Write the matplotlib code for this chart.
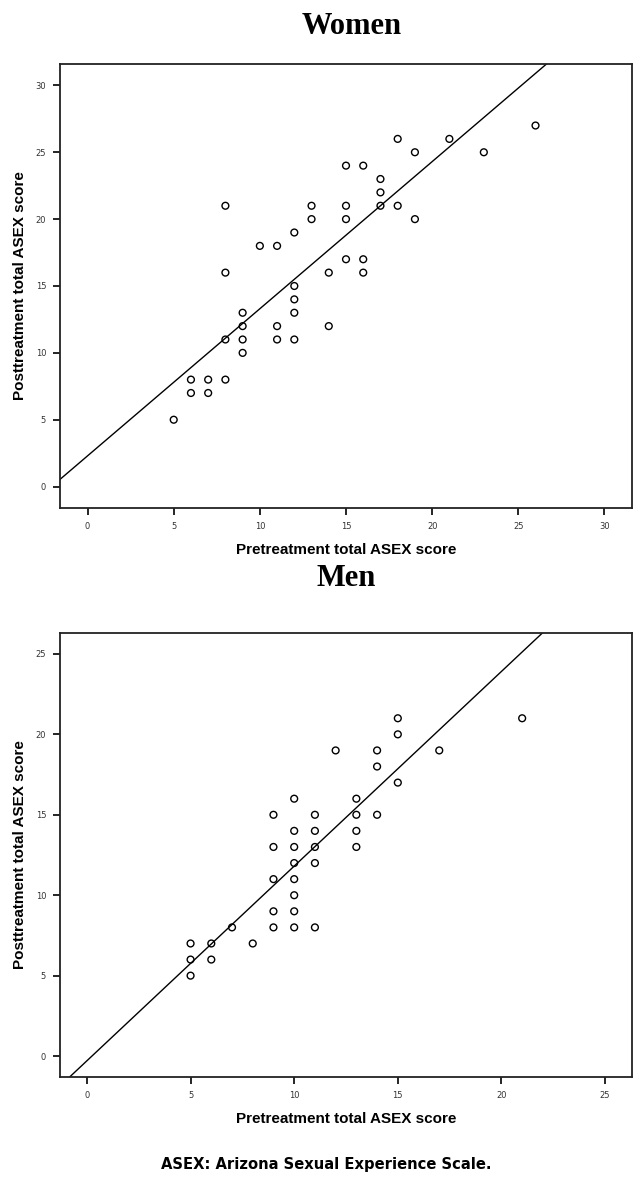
import matplotlib
matplotlib.use("Agg")
import matplotlib.pyplot as plt
import numpy as np

# Women: pretreatment vs posttreatment total ASEX score
women_pre = [5, 6, 6, 7, 7, 8, 8, 8, 8, 9, 9, 9, 9, 10, 11, 11, 11, 12, 12, 12, 12, 12,
             13, 13, 14, 14, 15, 15, 15, 15, 16, 16, 16, 17, 17, 17, 18, 18, 19, 19, 21, 23, 26]
women_post = [5, 8, 7, 8, 7, 8, 11, 16, 21, 13, 12, 11, 10, 18, 18, 12, 11, 19, 15, 14, 13, 11,
              21, 20, 16, 12, 24, 21, 20, 17, 24, 17, 16, 23, 22, 21, 26, 21, 25, 20, 26, 25, 27]
women_fit = (2.30, 1.10)  # intercept, slope

# Men
men_pre = [5, 5, 5, 6, 6, 7, 8, 9, 9, 9, 9, 9, 10, 10, 10, 10, 10, 10, 10, 10,
           11, 11, 11, 11, 11, 12, 13, 13, 13, 13, 14, 14, 14, 15, 15, 15, 17, 21]
men_post = [7, 6, 5, 7, 6, 8, 7, 15, 13, 11, 9, 8, 16, 14, 13, 12, 11, 10, 9, 8,
            15, 14, 13, 12, 8, 19, 16, 15, 14, 13, 19, 18, 15, 21, 20, 17, 19, 21]
men_fit = (-0.29, 1.21)

women_ticks = [0, 5, 10, 15, 20, 25, 30]
men_ticks = [0, 5, 10, 15, 20, 25]

fig = plt.figure(figsize=(6.34, 11.81), dpi=100)

ax_w = fig.add_axes([60 / 634, 1 - 508 / 1181, 572 / 634, 444 / 1181])
ax_m = fig.add_axes([60 / 634, 1 - 1077 / 1181, 572 / 634, 444 / 1181])


def draw_panel(ax, x, y, fit, ticks, lims):
    ax.scatter(x, y, s=24, facecolors="none", edgecolors="black", linewidths=1.0, zorder=3)
    a, b = fit
    xx = np.array([lims[0] - 2, lims[1] + 2])
    ax.plot(xx, a + b * xx, color="black", lw=1.0, zorder=2)
    ax.set_xlim(lims)
    ax.set_ylim(lims)
    ax.set_xticks(ticks)
    ax.set_yticks(ticks)
    ax.tick_params(direction="out", length=5, width=1.2, labelsize=6, labelcolor="#333333", pad=5)
    for sp in ax.spines.values():
        sp.set_linewidth(1.3)
        sp.set_color("#222222")
    ax.set_xlabel("Pretreatment total ASEX score", fontsize=11, fontweight="bold",
                  family="Liberation Sans", labelpad=9)
    ax.set_ylabel("Posttreatment total ASEX score", fontsize=11, fontweight="bold",
                  family="Liberation Sans", labelpad=6)


draw_panel(ax_w, women_pre, women_post, women_fit, women_ticks, (-1.6, 31.6))
draw_panel(ax_m, men_pre, men_post, men_fit, men_ticks, (-1.3, 26.3))

fig.text(352 / 634, 1 - 27 / 1181, "Women", ha="center", va="center", fontsize=22,
         fontweight="bold", family="Liberation Serif")
fig.text(346 / 634, 1 - 578 / 1181, "Men", ha="center", va="center", fontsize=22,
         fontweight="bold", family="Liberation Serif")
fig.text(326 / 634, 1 - 1165 / 1181, "ASEX: Arizona Sexual Experience Scale.", ha="center",
         va="center", fontsize=11.8, fontweight="bold", fontstretch="condensed",
         family="DejaVu Sans")

fig.savefig("out.png", dpi=100)
